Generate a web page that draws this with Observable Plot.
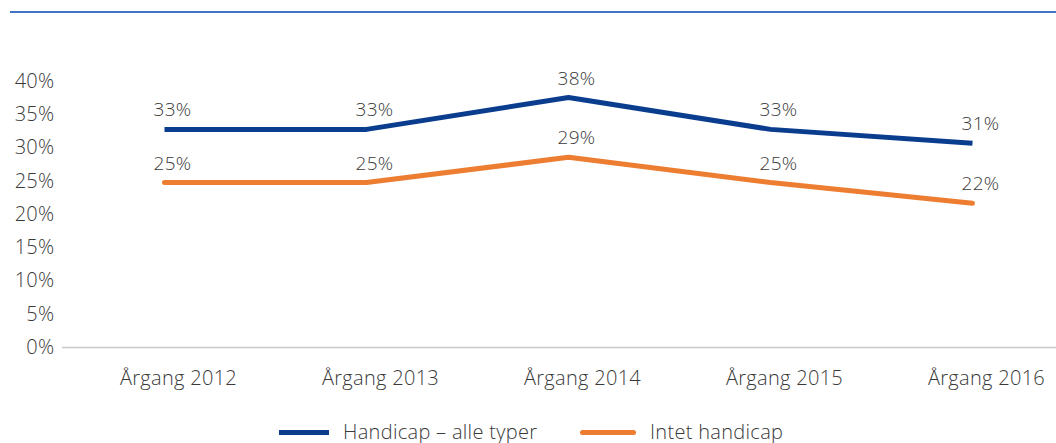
<!DOCTYPE html>
<html>
<head>
<meta charset="utf-8">
<script src="https://cdn.jsdelivr.net/npm/d3@7"></script>
<script src="https://cdn.jsdelivr.net/npm/@observablehq/plot@0.6"></script>
<style>
  html, body { margin: 0; padding: 0; background: #fff; width: 1056px; height: 443px; overflow: hidden; }
  body { position: relative; font-family: "Open Sans", sans-serif; color: #3a3a3a; }
  #topline { position: absolute; left: 10px; right: 0; top: 11px; height: 2px; background: #4472C4; }
  #chart { position: absolute; left: 0; top: 0; }
  #chart svg text { letter-spacing: 0.3px; font-weight: 300; }
  #legend { position: absolute; top: 420px; left: 0; width: 1056px; height: 24px; }
  .item { position: absolute; top: 0; display: flex; align-items: center; font-size: 20px; font-weight: 300; letter-spacing: 0.3px; line-height: 24px; white-space: nowrap; }
  .sw { display: inline-block; height: 5px; margin-right: 14px; }
</style>
</head>
<body>
<div id="topline"></div>
<div id="chart"></div>
<div id="legend"></div>
<script>
const years = ["Årgang 2012", "Årgang 2013", "Årgang 2014", "Årgang 2015", "Årgang 2016"];
const seriesNames = ["Handicap – alle typer", "Intet handicap"];
const handicapValues = [32.8, 32.8, 37.6, 32.8, 30.7];
const handicapLabels = ["33%", "33%", "38%", "33%", "31%"];
const intetValues = [24.8, 24.8, 28.6, 24.8, 21.7];
const intetLabels = ["25%", "25%", "29%", "25%", "22%"];
const yTicks = [0, 5, 10, 15, 20, 25, 30, 35, 40];
const colors = ["#0B3D8F", "#ED7D31"];

const data = [];
years.forEach((y, i) => {
  data.push({year: y, value: handicapValues[i], label: handicapLabels[i], series: seriesNames[0]});
  data.push({year: y, value: intetValues[i], label: intetLabels[i], series: seriesNames[1]});
});

const chart = Plot.plot({
  width: 1056,
  height: 400,
  marginLeft: 62,
  marginRight: 0,
  marginTop: 81,
  marginBottom: 53,
  style: {fontFamily: "'Open Sans', sans-serif", fontSize: "19px", color: "#3a3a3a", background: "transparent"},
  x: {type: "point", domain: years, range: [163, 972], padding: 0, label: null},
  y: {domain: [0, 40], label: null},
  marks: [
    Plot.axisY({ticks: yTicks, tickSize: 0, tickPadding: 8, tickFormat: d => d + "%", label: null, fontSize: 20}),
    Plot.axisX({tickSize: 0, tickPadding: 23, dx: 14, label: null, fontSize: 20}),
    Plot.ruleY([0], {stroke: "#c8c8c8", strokeWidth: 1.5}),
    Plot.line(data.filter(d => d.series === seriesNames[0]), {x: "year", y: "value", stroke: colors[0], strokeWidth: 5, strokeLinecap: "butt", strokeLinejoin: "round"}),
    Plot.line(data.filter(d => d.series === seriesNames[1]), {x: "year", y: "value", stroke: colors[1], strokeWidth: 5, strokeLinecap: "round", strokeLinejoin: "round"}),
    Plot.text(data, {x: "year", y: "value", text: "label", dy: -19, dx: 8, fontSize: 19, fill: "#3a3a3a"})
  ]
});
document.getElementById("chart").appendChild(chart);

const legend = document.getElementById("legend");
const legendPos = [{left: 279, w: 50, cap: "0"}, {left: 580, w: 56, cap: "3px"}];
seriesNames.forEach((name, i) => {
  const item = document.createElement("div");
  item.className = "item";
  item.style.left = legendPos[i].left + "px";
  const sw = document.createElement("span");
  sw.className = "sw";
  sw.style.width = legendPos[i].w + "px";
  sw.style.background = colors[i];
  sw.style.borderRadius = legendPos[i].cap;
  item.appendChild(sw);
  item.appendChild(document.createTextNode(name));
  legend.appendChild(item);
});
</script>
</body>
</html>
